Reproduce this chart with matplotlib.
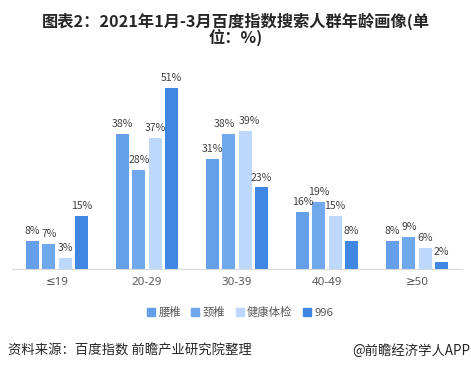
import matplotlib
matplotlib.use('Agg')
from matplotlib import pyplot as plt
from matplotlib.patches import Patch
import numpy as np

plt.rcParams['font.family'] = ['Noto Sans CJK SC', 'DejaVu Sans']

categories = ['≤19', '20-29', '30-39', '40-49', '≥50']
series_names = ['腰椎', '颈椎', '健康体检', '996']
yaozhui = [8, 38, 31, 16, 8]
jingzhui = [7, 28, 38, 19, 9]
tijian = [3, 37, 39, 15, 6]
s996 = [15, 51, 23, 8, 2]
colors = ['#649fe8', '#70a8ee', '#bdd8fa', '#3f87e2']

# labels nudged sideways (like the original) so neighbours don't collide
nudge = {(1, 2): -3, (2, 2): 3}

fig = plt.figure(figsize=(4.71, 3.71), dpi=100)
W, H = 471, 371
ax = fig.add_axes([12 / W, (H - 269) / H, 450 / W, 209 / H])

x = np.arange(len(categories))
step = 0.181
width = 0.145
for i, vals in enumerate([yaozhui, jingzhui, tijian, s996]):
    pos = x + (i - 1.5) * step
    ax.bar(pos, vals, width=width, color=colors[i], zorder=2)
    for j, (p, v) in enumerate(zip(pos, vals)):
        dx = nudge.get((i, j), 0)
        ax.annotate(f'{v}%', (p, v), xytext=(dx, 3.5), textcoords='offset points',
                    ha='center', va='bottom', fontsize=7.6, color='#404040')

ax.set_xlim(-0.5, 4.5)
ax.set_ylim(0, 58.9)
ax.set_yticks([])
ax.set_xticks(x)
ax.set_xticklabels(categories, fontsize=8.3, color='#595959', family=['Noto Sans', 'DejaVu Sans'])
ax.tick_params(axis='x', length=0, pad=6)
for s in ['top', 'right', 'left']:
    ax.spines[s].set_visible(False)
ax.spines['bottom'].set_color('#d9d9d9')

fig.text(0.5, 1 - 21 / H, '图表2：2021年1月-3月百度指数搜索人群年龄画像(单', ha='center', va='center',
         fontsize=11.7, fontweight='bold', color='#262626')
fig.text(0.5, 1 - 38 / H, '位：%)', ha='center', va='center',
         fontsize=11.7, fontweight='bold', color='#262626')

handles = [Patch(color=c) for c in colors]
fig.legend(handles, series_names, loc='center', bbox_to_anchor=(240 / W, 1 - 312 / H), ncol=4,
           frameon=False, fontsize=8.2, labelcolor='#595959', handlelength=0.7, handleheight=0.7,
           handletextpad=0.3, columnspacing=0.9)

fig.text(8 / W, 1 - 351 / H, '资料来源：百度指数 前瞻产业研究院整理', ha='left', va='center',
         fontsize=9.6, color='#262626')
fig.text(470 / W, 1 - 351 / H, '@前瞻经济学人APP', ha='right', va='center',
         fontsize=9.6, color='#262626')

fig.savefig('out.png', dpi=100)
